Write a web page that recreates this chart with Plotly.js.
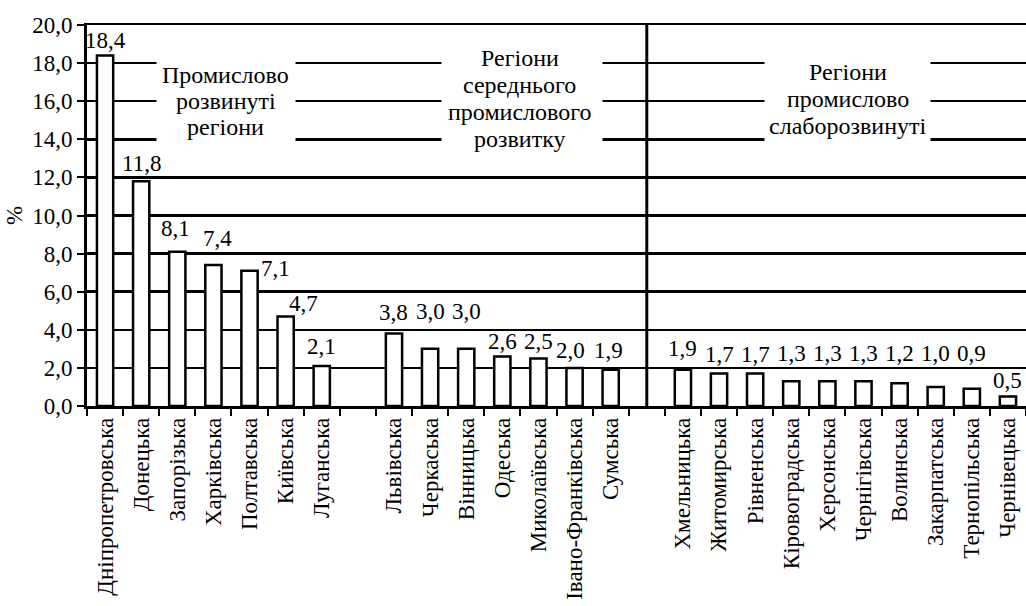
<!DOCTYPE html>
<html>
<head>
<meta charset="utf-8">
<script src="https://cdn.plot.ly/plotly-3.0.1.min.js"></script>
<style>html,body{margin:0;padding:0;background:#fff;}#chart{width:1026px;height:606px;}</style>
</head>
<body>
<div id="chart"></div>
<script>
// ---- data ----
const group1Regions = ['Дніпропетровська','Донецька','Запорізька','Харківська','Полтавська','Київська','Луганська'];
const group1Values  = [18.4, 11.8, 8.1, 7.4, 7.1, 4.7, 2.1];
const group2Regions = ['Львівська','Черкаська','Вінницька','Одеська','Миколаївська','Івано-Франківська','Сумська'];
const group2Values  = [3.8, 3.0, 3.0, 2.6, 2.5, 2.0, 1.9];
const group3Regions = ['Хмельницька','Житомирська','Рівненська','Кіровоградська','Херсонська','Чернігівська','Волинська','Закарпатська','Тернопільська','Чернівецька'];
const group3Values  = [1.9, 1.7, 1.7, 1.3, 1.3, 1.3, 1.2, 1.0, 0.9, 0.5];
const group1Title = ['Промислово', 'розвинуті', 'регіони'];
const group2Title = ['Регіони', 'середнього', 'промислового', 'розвитку'];
const group3Title = ['Регіони', 'промислово', 'слаборозвинуті'];
const yTickValues = [0, 2, 4, 6, 8, 10, 12, 14, 16, 18, 20];

// ---- style ----
const gap1 = ' ', gap2 = '  ';
// value-label offsets in px, per category order
const labelDX = [0,0,-2,4,26,18,0, 0, 0,0,0,0,0,-4,-2, 0, 0,0,0,0,0,0,0,0,0,0];
const labelDY = [0,3,9,12,-12,-2,5, 0, 7,23,23,0,2,3,5, 0, 7,5,5,13,13,13,15,19,21,1];
// title blocks: [paper x of text, y centre, box width px, box height px, line step px]
const titleStyle = [
  {x: 0.148, y: 16.0,  bx: 0.148, bw: 138, bh: 92,  step: 26},
  {x: 0.461, y: 16.15, bx: 0.463, bw: 160, bh: 104, step: 27},
  {x: 0.810, y: 16.1,  bx: 0.810, bw: 165, bh: 92,  step: 27}
];

const categories = [].concat(group1Regions, [gap1], group2Regions, [gap2], group3Regions);
const values = [].concat(group1Values, [null], group2Values, [null], group3Values);
const titles = [group1Title, group2Title, group3Title];

const serif = 'Liberation Serif';

const trace = {
  type: 'bar',
  x: categories,
  y: values,
  width: 0.45,
  marker: {color: '#ffffff', line: {color: '#000000', width: 2.5}},
  hoverinfo: 'x+y'
};

const annotations = [];
categories.forEach((c, i) => {
  const v = values[i];
  if (v === null) return;
  annotations.push({
    x: c, y: v, xref: 'x', yref: 'y',
    text: v.toFixed(1).replace('.', ','),
    showarrow: false, yanchor: 'bottom', xanchor: 'center',
    xshift: labelDX[i], yshift: labelDY[i],
    font: {family: serif, size: 23, color: '#000'}
  });
});
titles.forEach((lines, g) => {
  const s = titleStyle[g];
  // white box that interrupts the grid lines
  annotations.push({
    x: s.bx, y: s.y, xref: 'paper', yref: 'y',
    text: ' ', showarrow: false, xanchor: 'center', yanchor: 'middle',
    width: s.bw, height: s.bh, bgcolor: '#ffffff', borderpad: 0,
    font: {family: serif, size: 10, color: '#fff'}
  });
  lines.forEach((t, k) => {
    annotations.push({
      x: s.x, y: s.y, xref: 'paper', yref: 'y',
      text: t, showarrow: false, xanchor: 'center', yanchor: 'middle',
      yshift: -(k - (lines.length - 1) / 2) * s.step,
      font: {family: serif, size: 24, color: '#000'}
    });
  });
});

const layout = {
  width: 1026, height: 606,
  margin: {l: 87, r: 0, t: 25, b: 200},
  paper_bgcolor: '#fff', plot_bgcolor: '#fff',
  separators: ', ',
  showlegend: false,
  font: {family: serif, color: '#000'},
  xaxis: {
    type: 'category',
    categoryorder: 'array', categoryarray: categories,
    tickson: 'boundaries',
    ticks: 'outside', ticklen: 7, tickwidth: 2, tickcolor: '#000',
    tickangle: -90,
    tickfont: {family: serif, size: 23, color: '#000'},
    showline: true, linecolor: '#000', linewidth: 2.5, mirror: true,
    showgrid: false, zeroline: false,
    range: [-0.5, categories.length - 0.5]
  },
  yaxis: {
    range: [0, 20],
    tickvals: yTickValues,
    tickformat: '.1f',
    ticks: 'outside', ticklen: 7, tickwidth: 2, tickcolor: '#000',
    tickfont: {family: serif, size: 23, color: '#000'},
    showline: true, linecolor: '#000', linewidth: 3,
    showgrid: true, gridcolor: '#000', gridwidth: 2.5,
    zeroline: false,
    title: {text: '%', font: {family: serif, size: 23, color: '#000'}, standoff: 4}
  },
  shapes: [{
    type: 'line', xref: 'x', yref: 'paper',
    x0: categories.indexOf(gap2), x1: categories.indexOf(gap2), y0: 0, y1: 1,
    line: {color: '#000', width: 3}
  }],
  annotations: annotations
};

Plotly.newPlot('chart', [trace], layout, {displayModeBar: false, staticPlot: true});
</script>
</body>
</html>
